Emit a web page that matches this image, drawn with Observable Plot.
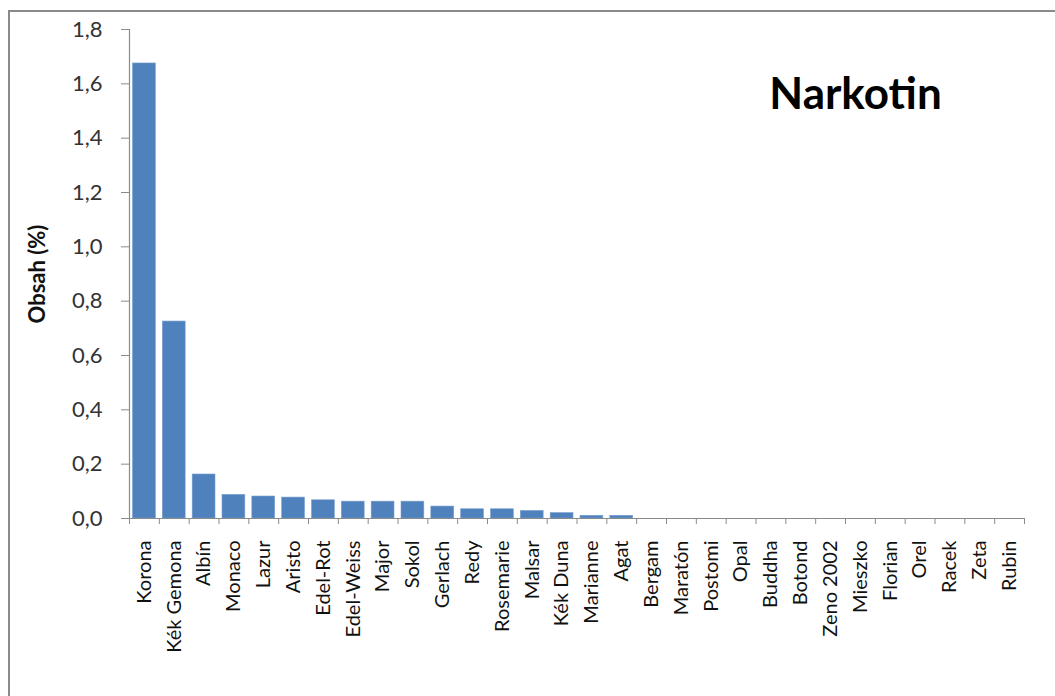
<!DOCTYPE html>
<html>
<head>
<meta charset="utf-8">
<script src="https://cdn.jsdelivr.net/npm/d3@7"></script>
<script src="https://cdn.jsdelivr.net/npm/@observablehq/plot@0.6"></script>
<style>
  html, body { margin: 0; padding: 0; background: #fff; overflow: hidden; }
  #wrap { position: relative; width: 1055px; height: 696px; overflow: hidden; }
  #border { position: absolute; left: 8px; top: 10px; width: 1200px; height: 900px; border: 2px solid #8a8a8a; box-sizing: border-box; }
  #chart { position: absolute; left: 0; top: 0; }
</style>
</head>
<body>
<div id="wrap"><div id="border"></div><div id="chart"></div></div>
<script>
const varieties = ["Korona","Kék Gemona","Albín","Monaco","Lazur","Aristo","Edel-Rot","Edel-Weiss","Major","Sokol","Gerlach","Redy","Rosemarie","Malsar","Kék Duna","Marianne","Agat","Bergam","Maratón","Postomi","Opal","Buddha","Botond","Zeno 2002","Mieszko","Florian","Orel","Racek","Zeta","Rubin"];
const values = [1.675,0.725,0.162,0.087,0.081,0.077,0.067,0.062,0.062,0.062,0.044,0.034,0.034,0.028,0.020,0.010,0.010,0,0,0,0,0,0,0,0,0,0,0,0,0];
const yTicks = [0,0.2,0.4,0.6,0.8,1.0,1.2,1.4,1.6,1.8];
const title = "Narkotin";
const yLabel = "Obsah (%)";

const data = varieties.map((name, i) => ({name, value: values[i], i}));
const font = "Lato, 'Open Sans', sans-serif";

const plot = Plot.plot({
  width: 1055,
  height: 696,
  marginLeft: 129,
  marginRight: 31,
  marginTop: 29,
  marginBottom: 178,
  style: {fontFamily: font, background: "transparent", color: "#222"},
  x: {domain: [0, varieties.length], axis: null},
  y: {domain: [0, 1.8], axis: null},
  marks: [
    Plot.rectY(data.filter(d => d.value > 0), {x1: "i", x2: d => d.i + 1, y: "value", insetLeft: 3.5, insetRight: 3.5, fill: "#4f81bd", stroke: "#7aa0cf", strokeWidth: 0.6}),
    Plot.ruleX([0], {y1: 0, y2: 1.8, stroke: "#8a8a8a", strokeWidth: 1.2}),
    Plot.ruleY([0], {stroke: "#8a8a8a", strokeWidth: 1.2}),
    Plot.axisY({ticks: yTicks, tickFormat: d => d.toFixed(1).replace(".", ","), tickSize: 8, tickPadding: 19, fontSize: 22, stroke: "#8a8a8a", color: "#333", label: null}),
    Plot.axisX({ticks: d3.range(varieties.length + 1), tickFormat: () => "", tickSize: 6, stroke: "#8a8a8a", label: null}),
    Plot.text(data, {x: d => d.i + 0.5, y: 0, text: "name", rotate: -90, textAnchor: "end", lineAnchor: "middle", dy: 22, fontSize: 20, fill: "#111"}),
    Plot.text([yLabel], {frameAnchor: "left", dx: -92, rotate: -90, textAnchor: "middle", fontSize: 22, fontWeight: "bold", fill: "#111"}),
    Plot.text([title], {frameAnchor: "top-left", dx: 726, dy: 48, textAnchor: "middle", fontSize: 44, fontWeight: "bold", fill: "#000"})
  ]
});
document.getElementById("chart").appendChild(plot);
</script>
</body>
</html>
